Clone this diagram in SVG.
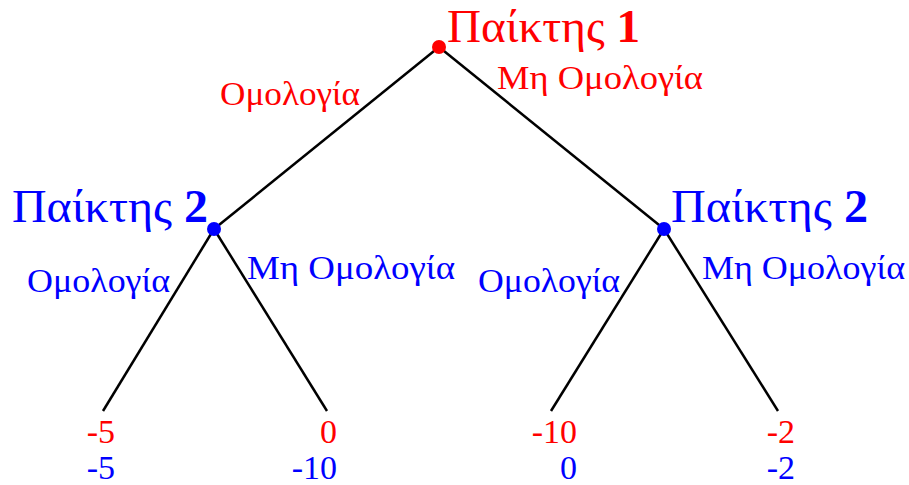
<svg xmlns="http://www.w3.org/2000/svg" width="909" height="485" viewBox="0 0 909 485">
<style>
text{font-family:"Liberation Serif","DejaVu Serif",serif}
.r{fill:#ff0000}
.b{fill:#0000ff}
.big{font-size:46px}
.lab{font-size:33px}
.num{font-size:34px;text-anchor:end}
.e{stroke:#000;stroke-width:2.5;fill:none}
</style>
<rect width="909" height="485" fill="#fff"/>
<g id="connectors">
<line class="e" x1="439" y1="47" x2="214" y2="229"/>
<line class="e" x1="439" y1="47" x2="664" y2="229"/>
<line class="e" x1="214" y1="229" x2="103" y2="411"/>
<line class="e" x1="214" y1="229" x2="327" y2="411"/>
<line class="e" x1="664" y1="229" x2="551" y2="411"/>
<line class="e" x1="664" y1="229" x2="778" y2="411"/>
<text class="lab r" x="220" y="105" textLength="140" lengthAdjust="spacingAndGlyphs">Ομολογία</text>
<text class="lab r" x="497" y="89" textLength="206" lengthAdjust="spacingAndGlyphs">Μη Ομολογία</text>
<text class="lab b" x="27" y="292" textLength="143" lengthAdjust="spacingAndGlyphs">Ομολογία</text>
<text class="lab b" x="247" y="279" textLength="208" lengthAdjust="spacingAndGlyphs">Μη Ομολογία</text>
<text class="lab b" x="478" y="292" textLength="142" lengthAdjust="spacingAndGlyphs">Ομολογία</text>
<text class="lab b" x="702" y="279" textLength="203" lengthAdjust="spacingAndGlyphs">Μη Ομολογία</text>
</g>
<g id="p1">
<circle cx="439" cy="47" r="7" fill="#ff0000"/>
<text class="big r" x="447" y="42" textLength="193" lengthAdjust="spacingAndGlyphs">Παίκτης <tspan font-weight="bold">1</tspan></text>
</g>
<g id="p2left">
<circle cx="214" cy="229" r="7" fill="#0000ff"/>
<text class="big b" x="12" y="222" textLength="196" lengthAdjust="spacingAndGlyphs">Παίκτης <tspan font-weight="bold">2</tspan></text>
</g>
<g id="p2right">
<circle cx="664" cy="229" r="7" fill="#0000ff"/>
<text class="big b" x="671" y="222" textLength="197" lengthAdjust="spacingAndGlyphs">Παίκτης <tspan font-weight="bold">2</tspan></text>
</g>
<g id="leaf1">
<text class="num r" x="115" y="443">-5</text>
<text class="num b" x="115" y="479">-5</text>
</g>
<g id="leaf2">
<text class="num r" x="337" y="443">0</text>
<text class="num b" x="337" y="479">-10</text>
</g>
<g id="leaf3">
<text class="num r" x="577" y="443">-10</text>
<text class="num b" x="577" y="479">0</text>
</g>
<g id="leaf4">
<text class="num r" x="795" y="443">-2</text>
<text class="num b" x="795" y="479">-2</text>
</g>
</svg>
